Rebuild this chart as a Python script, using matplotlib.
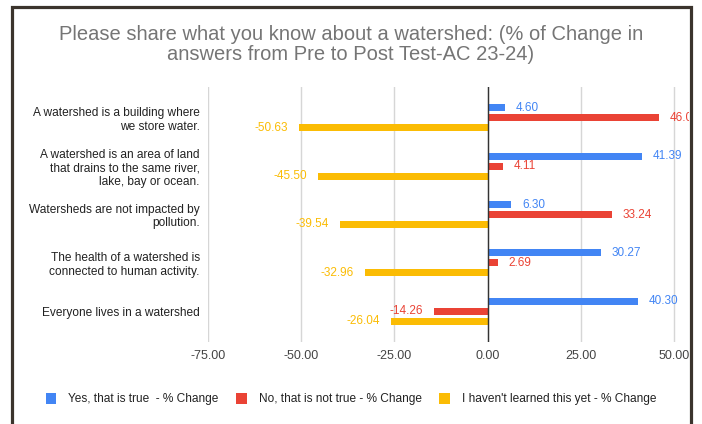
import matplotlib.pyplot as plt
from matplotlib.patches import Rectangle
from matplotlib.transforms import offset_copy
import numpy as np

plt.rcParams['font.family'] = ['Liberation Sans', 'DejaVu Sans']

categories = [
    "A watershed is a building where\nwe store water.",
    "A watershed is an area of land\nthat drains to the same river,\nlake, bay or ocean.",
    "Watersheds are not impacted by\npollution.",
    "The health of a watershed is\nconnected to human activity.",
    "Everyone lives in a watershed",
]
yes_true = [4.60, 41.39, 6.30, 30.27, 40.30]
no_not_true = [46.00, 4.11, 33.24, 2.69, -14.26]
not_learned = [-50.63, -45.50, -39.54, -32.96, -26.04]
series_names = [
    "Yes, that is true  - % Change",
    "No, that is not true - % Change",
    "I haven't learned this yet - % Change",
]
colors = ["#4285F4", "#EA4335", "#FBBC04"]
xticks = [-75, -50, -25, 0, 25, 50]

W, H = 702, 424
fig = plt.figure(figsize=(W / 100, H / 100), dpi=100)
ax = fig.add_axes([208 / W, 1 - 342 / H, (689 - 208) / W, (342 - 87) / H])

y = np.arange(len(categories))
offsets = [-0.207, 0.0, 0.207]
bar_h = 0.145
series = [yes_true, no_not_true, not_learned]

right_shift = offset_copy(ax.transData, fig=fig, x=11, y=0, units="dots")
left_shift = offset_copy(ax.transData, fig=fig, x=-11, y=0, units="dots")

for vals, off, col, name in zip(series, offsets, colors, series_names):
    ax.barh(y + off, vals, height=bar_h, color=col, label=name, zorder=3)
    for yi, v in zip(y, vals):
        ax.text(v, yi + off, f"{v:.2f}",
                transform=right_shift if v >= 0 else left_shift,
                ha="left" if v >= 0 else "right", va="center",
                fontsize=8.5, color=col, zorder=4, clip_on=True)

ax.set_xlim(-75, 54)
ax.set_ylim(len(categories) - 1 + 0.64, -0.64)
ax.set_xticks(xticks)
ax.set_xticklabels([f"{t:.2f}" for t in xticks], fontsize=9, color="#444444")
ax.set_yticks(y)
ax.set_yticklabels(categories, fontsize=8.6, color="#222222", linespacing=1.15)
ax.tick_params(axis="both", length=0)
ax.tick_params(axis="y", pad=6)
ax.tick_params(axis="x", pad=6)
for s in ax.spines.values():
    s.set_visible(False)
ax.grid(axis="x", color="#d6d6d6", linewidth=1, zorder=0)
ax.axvline(0, color="#333333", linewidth=1, zorder=5)

fig.text(0.5, 1 - 35 / H, "Please share what you know about a watershed: (% of Change in",
         ha="center", va="center", fontsize=14.5, color="#757575")
fig.text(0.5, 1 - 55 / H, "answers from Pre to Post Test-AC 23-24)",
         ha="center", va="center", fontsize=14.5, color="#757575")

fig.legend(loc="center", bbox_to_anchor=(0.5, 1 - 399 / H), ncol=3, frameon=False,
           fontsize=8.6, handlelength=0.9, handleheight=1.1, handletextpad=1.0,
           columnspacing=1.45, labelcolor="#222222")

# dark frame around the chart
fig.patches.append(Rectangle((11.5 / W, -0.1), (691 - 11.5) / W, 1.1 - 7.5 / H,
                             transform=fig.transFigure, fill=False,
                             edgecolor="#3b342d", linewidth=2.3))

fig.savefig("out.png", dpi=100)
